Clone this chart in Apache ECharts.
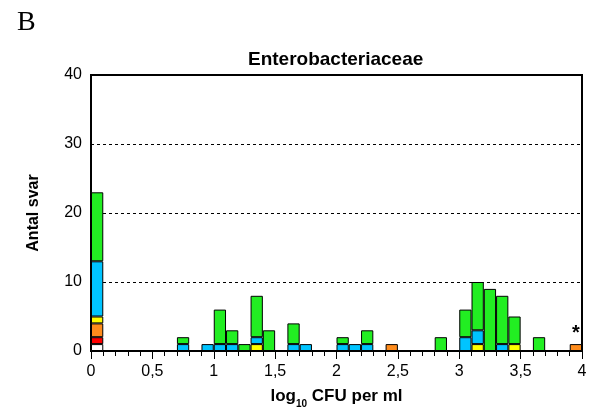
<!DOCTYPE html>
<html>
<head>
<meta charset="utf-8">
<script src="https://cdn.jsdelivr.net/npm/echarts@6/dist/echarts.min.js"></script>
<style>html,body{margin:0;padding:0;background:#fff;}#c{width:591px;height:412px;}</style>
</head>
<body>
<div id="c"></div>
<script>
// Bin starts (log10 CFU per ml), bins of width 0.1
const categories = ['0.0','0.1','0.2','0.3','0.4','0.5','0.6','0.7','0.8','0.9',
  '1.0','1.1','1.2','1.3','1.4','1.5','1.6','1.7','1.8','1.9',
  '2.0','2.1','2.2','2.3','2.4','2.5','2.6','2.7','2.8','2.9',
  '3.0','3.1','3.2','3.3','3.4','3.5','3.6','3.7','3.8','3.9'];
const whiteVals  = [1,0,0,0,0,0,0,0,0,0, 0,0,0,0,0,0,0,0,0,0, 0,0,0,0,0,0,0,0,0,0, 0,0,0,0,0,0,0,0,0,0];
const redVals    = [1,0,0,0,0,0,0,0,0,0, 0,0,0,0,0,0,0,0,0,0, 0,0,0,0,0,0,0,0,0,0, 0,0,0,0,0,0,0,0,0,0];
const orangeVals = [2,0,0,0,0,0,0,0,0,0, 0,0,0,0,0,0,0,0,0,0, 0,0,0,0,1,0,0,0,0,0, 0,0,0,0,0,0,0,0,0,1];
const yellowVals = [1,0,0,0,0,0,0,0,0,0, 0,0,0,1,0,0,0,0,0,0, 0,0,0,0,0,0,0,0,0,0, 0,1,0,0,1,0,0,0,0,0];
const blueVals   = [8,0,0,0,0,0,0,1,0,1, 1,1,0,1,0,0,1,1,0,0, 1,1,1,0,0,0,0,0,0,0, 2,2,0,1,0,0,0,0,0,0];
const greenVals  = [10,0,0,0,0,0,0,1,0,0, 5,2,1,6,3,0,3,0,0,0, 1,0,2,0,0,0,0,0,2,0, 4,7,9,7,4,0,2,0,0,0];
const xTickLabels = ['0','0,5','1','1,5','2','2,5','3','3,5','4'];
const yTickLabels = ['0','10','20','30','40'];
const starredBin = 39;

const seriesDefs = [
  {name:'white', vals:whiteVals, color:'#ffffff'},
  {name:'red', vals:redVals, color:'#ff0000'},
  {name:'orange', vals:orangeVals, color:'#ff8c1c'},
  {name:'yellow', vals:yellowVals, color:'#ffff00'},
  {name:'blue', vals:blueVals, color:'#00c4ff'},
  {name:'green', vals:greenVals, color:'#22ee22'}
];

const FONT = 'Liberation Sans, Arial, sans-serif';
const series = seriesDefs.map(function(s, si){
  return {
    type:'bar', name:s.name, stack:'all', xAxisIndex:0, yAxisIndex:0,
    barWidth:'100%', barGap:'0%',
    itemStyle:{color:s.color, borderColor:'#000', borderWidth:1},
    data: s.vals.map(function(v, i){
      if (v === 0) return '-';
      if (i === starredBin && si === 2) {
        return {value:v, label:{show:true, position:'top', formatter:'*', distance:1,
          fontSize:20, fontWeight:'bold', color:'#000', fontFamily:FONT}};
      }
      return v;
    }),
    animation:false
  };
});

const chart = echarts.init(document.getElementById('c'), null, {renderer:'canvas'});
chart.setOption({
  animation:false,
  backgroundColor:'#fff',
  title:[
    {text:'B', left:12, top:4, textStyle:{fontFamily:'Liberation Serif, Times New Roman, serif', fontSize:28, fontWeight:'normal', color:'#000'}},
    {text:'Enterobacteriaceae', left:243, top:45, textStyle:{fontFamily:FONT, fontSize:19, fontWeight:'bold', color:'#000'}}
  ],
  grid:{left:91, right:9, top:75, bottom:61, show:true, borderColor:'#000', borderWidth:2,
        backgroundColor:'transparent', containLabel:false, outerBoundsMode:'none'},
  xAxis:[
    {type:'category', data:categories, boundaryGap:true, show:false, gridIndex:0},
    {type:'value', min:0, max:4, interval:0.5, position:'bottom', gridIndex:0,
     axisLine:{show:true, onZero:false, lineStyle:{color:'#000', width:2}},
     axisTick:{show:true, length:8, lineStyle:{color:'#000', width:1}},
     minorTick:{show:true, splitNumber:5, length:5, lineStyle:{color:'#000', width:1}},
     splitLine:{show:false},
     axisLabel:{margin:13, color:'#000', fontSize:16, fontFamily:FONT,
       formatter:function(v){ return xTickLabels[Math.round(v/0.5)]; }},
     name:'{b|log}{s|10}{b| CFU per ml}', nameLocation:'middle', nameGap:37,
     nameTextStyle:{rich:{
       b:{fontFamily:FONT, fontSize:17, fontWeight:'bold', color:'#000', verticalAlign:'bottom'},
       s:{fontFamily:FONT, fontSize:10, fontWeight:'bold', color:'#000', verticalAlign:'bottom', padding:[0,0,-4,0]}
     }}
    }
  ],
  yAxis:[{type:'value', min:0, max:40, interval:10,
    axisLine:{show:true, lineStyle:{color:'#000', width:2}},
    axisTick:{show:false},
    splitLine:{show:true, lineStyle:{color:'#000', type:[3,3], width:1}},
    axisLabel:{margin:9, color:'#000', fontSize:16, fontFamily:FONT,
      formatter:function(v){ return yTickLabels[Math.round(v/10)]; }},
    name:'Antal svar', nameLocation:'middle', nameGap:49, nameRotate:90,
    nameTextStyle:{fontFamily:FONT, fontSize:16, fontWeight:'bold', color:'#000'}
  }],
  series:series
});
</script>
</body>
</html>
